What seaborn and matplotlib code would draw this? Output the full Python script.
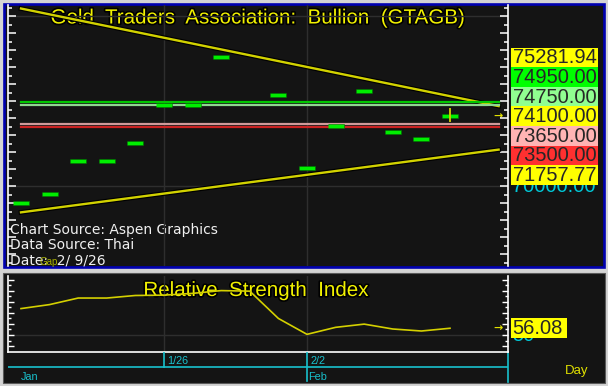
import numpy as np
import pandas as pd
import matplotlib
matplotlib.use("Agg")
import matplotlib.pyplot as plt
import matplotlib.patheffects as pe
from matplotlib.patches import Rectangle
from matplotlib.ticker import MultipleLocator
import seaborn as sns

# ---------------- data ----------------
dates = ['1/19', '1/20', '1/21', '1/22', '1/23', '1/26', '1/27', '1/28', '1/29',
         '1/30', '2/2', '2/3', '2/4', '2/5', '2/6', '2/9']
close = [69000, 69530, 71490, 71490, 72530, 74760, 74760, 77605, np.nan,
         75350, 71030, 73530, 75570, 73195, 72765, 74100]
last_high = 74530
last_low = 73820
rsi = [73.8, 77.4, 83.3, 83.3, 85.6, 85.9, 87.5, 90.0, 89.5,
       64.9, 50.6, 56.9, 59.8, 55.4, 53.6, 56.08]
level_values = [74950.00, 74750.00, 73650.00, 73500.00]
level_colors = ['#00c800', '#8fd88f', '#d09a9a', '#cc2222']
trend_span = [0, 16.7]
trend_upper = [80440, 74700]
trend_lower = [68450, 72140]
price_labels = [75281.94, 74950.00, 74750.00, 74100.00, 73650.00, 73500.00, 71757.77]
price_label_colors = ['#ffff00', '#00ff00', '#90ff90', '#ffff00', '#ffb4b4', '#ff3030', '#ffff00']
last_price = 74100.00
grid_prices = [70000.00, 80000.00]
rsi_last = 56.08
rsi_grid = 50
week_ticks = ['1/26', '2/2']
month_starts = {'Jan': '1/19', 'Feb': '2/2'}
title = 'Gold  Traders  Association:  Bullion  (GTAGB)'
rsi_title = 'Relative  Strength  Index'
source_lines = ['Chart Source: Aspen Graphics', 'Data Source: Thai', 'Date:  2/ 9/26']

# ---------------- layout ----------------
W, H = 608, 386
plt.rcParams['font.family'] = ['Liberation Sans', 'DejaVu Sans']
fig = plt.figure(figsize=(W / 100, H / 100), dpi=100, facecolor='#d4d4d4')


def frect(x0, y0, x1, y1):
    return [x0 / W, 1 - y1 / H, (x1 - x0) / W, (y1 - y0) / H]


BG = '#141414'
GRID = '#2e2e2e'
CYAN = '#18c0cc'
x_first, x_step = 21.0, 28.6
xlim = ((8 - x_first) / x_step, (508 - x_first) / x_step)

bg = fig.add_axes([0, 0, 1, 1], zorder=0)
bg.set_xlim(0, W)
bg.set_ylim(H, 0)
bg.axis('off')
bg.add_patch(Rectangle((3.5, 3.5), 600.5, 263.5, facecolor=BG,
                       edgecolor='#0000b0', linewidth=1.9))
bg.add_patch(Rectangle((2.5, 272.5), 602, 110, facecolor=BG,
                       edgecolor='#5a5a5a', linewidth=0.8))

df = pd.DataFrame({'idx': np.arange(len(dates)), 'date': dates,
                   'close': close, 'rsi': rsi})

# ---------------- main price panel ----------------
ax = fig.add_axes(frect(8, 5, 508, 266), zorder=2)
ax.set_facecolor('none')
ylo = 70000 - (266 - 186) * 10000 / 170
yhi = 70000 + (186 - 5) * 10000 / 170

for g in grid_prices:
    ax.axhline(g, color=GRID, lw=1.0, zorder=1)
for d in week_ticks:
    ax.axvline(dates.index(d), color=GRID, lw=1.0, zorder=1)

stroke = [pe.Stroke(linewidth=3.4, foreground='black'), pe.Normal()]
sns.lineplot(x=trend_span, y=trend_upper, ax=ax, color='#d2d200', lw=1.7,
             path_effects=stroke, zorder=3)
sns.lineplot(x=trend_span, y=trend_lower, ax=ax, color='#d2d200', lw=1.7,
             path_effects=stroke, zorder=3)
for v, c in zip(level_values, level_colors):
    sns.lineplot(x=[0, trend_span[1]], y=[v, v], ax=ax, color=c, lw=1.6, zorder=3)

bar_marker = [(-1, -0.28), (1, -0.28), (1, 0.28), (-1, 0.28)]
sns.scatterplot(data=df.dropna(subset=['close']), x='idx', y='close', ax=ax,
                marker=bar_marker, s=128, color='#00ee00', edgecolor='#007000',
                linewidth=0.4, zorder=5, legend=False)
last_i = len(dates) - 1
sns.lineplot(x=[last_i, last_i], y=[last_low, last_high], ax=ax, estimator=None,
             sort=False, color='#c8c800', lw=1.4, zorder=6)

ax.set_xlim(*xlim)
ax.set_ylim(ylo, yhi)
ax.set_xlabel('')
ax.set_ylabel('')
ax.set_xticks([])
ax.yaxis.set_major_locator(MultipleLocator(1000))
ax.yaxis.set_minor_locator(MultipleLocator(500))
ax.tick_params(axis='y', which='major', direction='in', length=5.5, width=1.1,
               color='white', left=True, right=True, labelleft=False, labelright=False)
ax.tick_params(axis='y', which='minor', direction='in', length=3, width=1.1,
               color='white', left=True, right=True)
for s in ['top', 'bottom']:
    ax.spines[s].set_visible(False)
for s in ['left', 'right']:
    ax.spines[s].set_color('white')
    ax.spines[s].set_linewidth(1.2)

# ---------------- RSI panel ----------------
rax = fig.add_axes(frect(8, 276, 508, 351.5), zorder=2)
rax.set_facecolor('none')
rax.axhline(rsi_grid, color=GRID, lw=1.0, zorder=1)
for d in week_ticks:
    rax.axvline(dates.index(d), color=GRID, lw=1.0, zorder=1)
sns.lineplot(data=df, x='idx', y='rsi', ax=rax, color='#d4d000', lw=1.2, zorder=3)
rax.set_xlim(*xlim)
r_px = 1.11
rax.set_ylim(50 - (351.5 - 335) / r_px, 50 + (335 - 276) / r_px)
rax.set_xlabel('')
rax.set_ylabel('')
rax.set_xticks([])
rax.yaxis.set_major_locator(MultipleLocator(10))
rax.yaxis.set_minor_locator(MultipleLocator(5))
rax.tick_params(axis='y', which='major', direction='in', length=4.5, width=1.0,
                color='white', left=True, right=True, labelleft=False, labelright=False)
rax.tick_params(axis='y', which='minor', direction='in', length=2.5, width=1.0,
                color='white', left=True, right=True)
rax.spines['top'].set_visible(False)
for s in ['left', 'right', 'bottom']:
    rax.spines[s].set_color('white')
    rax.spines[s].set_linewidth(1.2)

# ---------------- date strip ----------------
dax = fig.add_axes(frect(8, 351.5, 508, 382), zorder=2)
dax.set_facecolor('none')
dax.set_xlim(*xlim)
dax.set_ylim(382, 351.5)
dax.axis('off')
dax.axhline(366.7, color=CYAN, lw=1.2)
for d in week_ticks:
    i = dates.index(d)
    bottom = 381 if d in month_starts.values() else 367
    dax.plot([i, i], [352, bottom], color=CYAN, lw=1.2)
    dax.text(i + 3.5 / x_step, 364.5, d, color=CYAN, fontsize=7.8, va='baseline', ha='left')
for m, d in month_starts.items():
    i = dates.index(d)
    off = 1.5 / x_step if m != 'Jan' else 0
    dax.text(i + off, 379.5, m, color=CYAN, fontsize=7.8, va='baseline', ha='left')
bg.plot([508, 508], [352, 382], color=CYAN, lw=1.2)
bg.text(565, 374, 'Day', color='#e0e000', fontsize=9.5, va='baseline', ha='left')

# ---------------- texts ----------------
outline = [pe.withStroke(linewidth=2.4, foreground='black')]
bg.text(257, 23.5, title, color='#f2f200', fontsize=14.8, ha='center',
        va='baseline', path_effects=outline, zorder=2)
bg.text(255.5, 296, rsi_title, color='#f2f200', fontsize=14.8, ha='center',
        va='baseline', path_effects=outline, zorder=2)
for k, line in enumerate(source_lines):
    bg.text(10, 234 + 15.3 * k, line, color='#f0f0f0', fontsize=10,
            family='DejaVu Sans', va='baseline', ha='left', zorder=2)
bg.text(40, 265, 'Gap', color='#a8b000', fontsize=7, va='baseline', ha='left', zorder=3)


def img_y(axis, v):
    return H - axis.transData.transform((0, v))[1]


# price label column
lab_h = 19.6
y_last = img_y(ax, last_price)
k_last = price_labels.index(last_price)
bg.text(512, img_y(ax, grid_prices[0]) + 0.5, f'{grid_prices[0]:.2f}', color='#00c8d8',
        fontsize=14.5, va='center', ha='left', zorder=2)
for k, (v, c) in enumerate(zip(price_labels, price_label_colors)):
    cy = y_last + (k - k_last) * lab_h
    bg.add_patch(Rectangle((511, cy - lab_h / 2), 87, lab_h, facecolor=c,
                           edgecolor='none', zorder=3))
    bg.text(512.5, cy + 0.5, f'{v:.2f}', color='#262626', fontsize=14.5,
            va='center', ha='left', zorder=4)
bg.text(493, y_last, '\u2192', color='#e0e000', fontsize=8, family='DejaVu Sans',
        fontweight='bold', va='center', ha='left', zorder=2)

# RSI label
ry = img_y(rax, rsi_last)
bg.text(512, img_y(rax, rsi_grid) + 0.5, f'{rsi_grid}', color='#00c8d8',
        fontsize=14.5, va='center', ha='left', zorder=2)
bg.add_patch(Rectangle((511, ry - lab_h / 2), 56, lab_h, facecolor='#ffff00',
                       edgecolor='none', zorder=3))
bg.text(512.5, ry + 0.5, f'{rsi_last:.2f}', color='#262626', fontsize=14.5,
        va='center', ha='left', zorder=4)
bg.text(493, ry, '\u2192', color='#e0e000', fontsize=8, family='DejaVu Sans',
        fontweight='bold', va='center', ha='left', zorder=2)

fig.savefig('out.png', dpi=100, facecolor=fig.get_facecolor())
